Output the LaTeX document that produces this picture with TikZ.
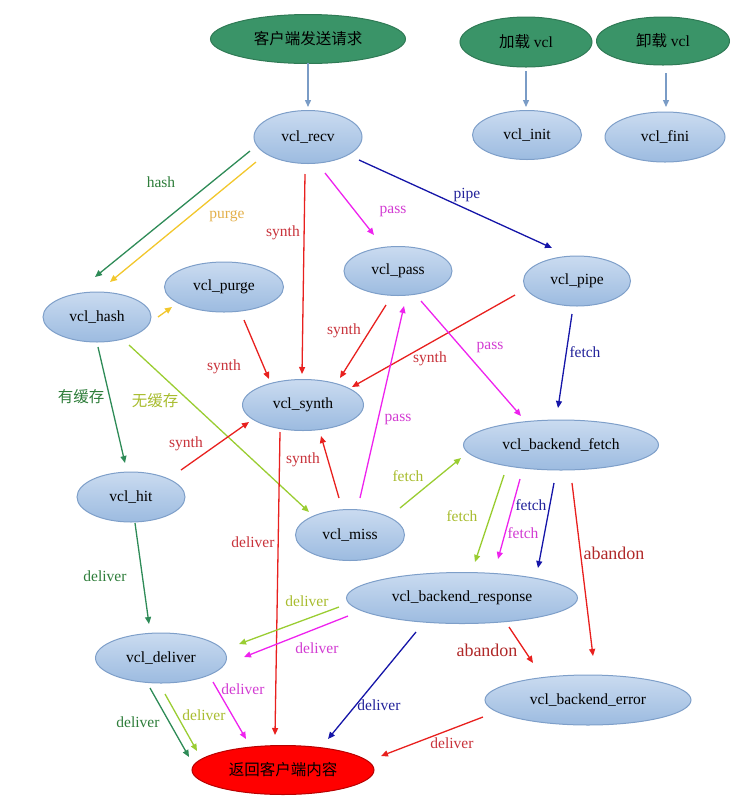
\documentclass[tikz,border=0pt]{standalone}
\usepackage{fontspec}
\setmainfont{Liberation Serif}
\newfontfamily\cjk{Noto Sans CJK SC}
\usetikzlibrary{shapes.geometric,arrows.meta,calc}
\definecolor{nodeBorder}{HTML}{7E9FC9}
\definecolor{nodeTop}{HTML}{CADBF0}
\definecolor{nodeBot}{HTML}{9CBBE0}
\definecolor{greenFill}{HTML}{3A9468}
\definecolor{greenBorder}{HTML}{2F7A55}
\definecolor{redBorder}{HTML}{B80000}
\definecolor{steel}{HTML}{7A9CC6}
\definecolor{cGreen}{HTML}{2E8B57}
\definecolor{cYellow}{HTML}{F2C72C}
\definecolor{cRed}{HTML}{E8201E}
\definecolor{cMag}{HTML}{EE22EE}
\definecolor{cNavy}{HTML}{1515A8}
\definecolor{cYG}{HTML}{9ACD32}
\definecolor{tGreen}{HTML}{2E7D3A}
\definecolor{tYellow}{HTML}{E3B04B}
\definecolor{tRed}{HTML}{C8323A}
\definecolor{tMag}{HTML}{D23CD2}
\definecolor{tNavy}{HTML}{22229A}
\definecolor{tYG}{HTML}{A8BC2E}
\definecolor{tDarkRed}{HTML}{B02828}
\tikzset{
  txt/.style={font=\fontsize{15.5}{18}\selectfont},
  blueell/.style={ellipse, draw=nodeBorder, line width=1pt, top color=nodeTop, bottom color=nodeBot, inner sep=0pt, txt},
  greenell/.style={ellipse, draw=greenBorder, line width=1pt, fill=greenFill, inner sep=0pt, txt},
  redell/.style={ellipse, draw=redBorder, line width=1pt, fill=red, inner sep=0pt, txt},
  conn/.style={line width=1.3pt, -{Triangle[length=7pt,width=6pt]}},
  lbl/.style={inner sep=0pt, txt},
  biglbl/.style={inner sep=0pt, font=\fontsize{18}{20}\selectfont},
}
\begin{document}
\begin{tikzpicture}[x=1pt,y=-1pt]
\useasboundingbox (0,0) rectangle (735,807);
% nodes
\node[greenell, minimum width=195pt, minimum height=49pt] (start) at (308,39) {\cjk 客户端发送请求};
\node[greenell, minimum width=132pt, minimum height=50pt] (load) at (526,42) {{\cjk 加载} vcl};
\node[greenell, minimum width=133pt, minimum height=48pt] (unload) at (663,41) {{\cjk 卸载} vcl};
\node[blueell, minimum width=109pt, minimum height=49pt] (init) at (527,135) {vcl\_init};
\node[blueell, minimum width=120pt, minimum height=50pt] (fini) at (665,137) {vcl\_fini};
\node[blueell, minimum width=108pt, minimum height=53pt] (recv) at (308,137) {vcl\_recv};
\node[blueell, minimum width=108pt, minimum height=50pt] (hash) at (97,317) {vcl\_hash};
\node[blueell, minimum width=119pt, minimum height=50pt] (purge) at (224,287) {vcl\_purge};
\node[blueell, minimum width=108pt, minimum height=49pt] (pass) at (398,271) {vcl\_pass};
\node[blueell, minimum width=107pt, minimum height=50pt] (pipe) at (577,281) {vcl\_pipe};
\node[blueell, minimum width=121pt, minimum height=51pt] (synth) at (303,405) {vcl\_synth};
\node[blueell, minimum width=195pt, minimum height=50pt] (bfetch) at (561,445) {vcl\_backend\_fetch};
\node[blueell, minimum width=108pt, minimum height=50pt] (hit) at (131,497) {vcl\_hit};
\node[blueell, minimum width=109pt, minimum height=51pt] (miss) at (350,535) {vcl\_miss};
\node[blueell, minimum width=231pt, minimum height=51pt] (bresp) at (462,598) {vcl\_backend\_response};
\node[blueell, minimum width=131pt, minimum height=50pt] (deliver) at (161,658) {vcl\_deliver};
\node[blueell, minimum width=206pt, minimum height=50pt] (berror) at (588,700) {vcl\_backend\_error};
\node[redell, minimum width=182pt, minimum height=49pt] (ret) at (283,770) {\cjk 返回客户端内容};
% connectors
\draw[conn, steel] ($(start)+(0,24)$) -- ($(recv)+(0,-30)$);
\draw[conn, steel] ($(load)+(0,29)$) -- ($(init)+(-1,-28)$);
\draw[conn, steel] ($(unload)+(3,32)$) -- ($(fini)+(1,-30)$);
\draw[conn, cGreen] ($(recv)+(-58,14)$) -- ($(hash)+(-2,-40)$);
\draw[conn, cYellow] ($(recv)+(-52,25)$) -- ($(hash)+(13,-35)$);
\draw[conn, cYellow] ($(hash)+(61,0)$) -- ($(purge)+(-52,20)$);
\draw[conn, cRed] ($(recv)+(-3,37)$) -- ($(synth)+(-1,-31)$);
\draw[conn, cMag] ($(recv)+(17,36)$) -- ($(pass)+(-24,-36)$);
\draw[conn, cNavy] ($(recv)+(51,23)$) -- ($(pipe)+(-25,-33)$);
\draw[conn, cRed] ($(purge)+(20,33)$) -- ($(synth)+(-34,-26)$);
\draw[conn, cRed] ($(pass)+(-12,34)$) -- ($(synth)+(37,-27)$);
\draw[conn, cRed] ($(pipe)+(-62,14)$) -- ($(synth)+(49,-18)$);
\draw[conn, cMag] ($(pass)+(23,30)$) -- ($(bfetch)+(-40,-29)$);
\draw[conn, cNavy] ($(pipe)+(-5,33)$) -- ($(bfetch)+(-3,-37)$);
\draw[conn, cGreen] ($(hash)+(1,30)$) -- ($(hit)+(-6,-34)$);
\draw[conn, cYG] ($(hash)+(32,28)$) -- ($(miss)+(-41,-23)$);
\draw[conn, cRed] ($(hit)+(50,-27)$) -- ($(synth)+(-54,17)$);
\draw[conn, cRed] ($(miss)+(-11,-37)$) -- ($(synth)+(18,31)$);
\draw[conn, cMag] ($(miss)+(10,-37)$) -- ($(pass)+(6,35)$);
\draw[conn, cYG] ($(miss)+(50,-27)$) -- ($(bfetch)+(-100,13)$);
\draw[conn, cYG] ($(bfetch)+(-57,30)$) -- ($(bresp)+(13,-36)$);
\draw[conn, cMag] ($(bfetch)+(-41,34)$) -- ($(bresp)+(36,-39)$);
\draw[conn, cNavy] ($(bfetch)+(-7,38)$) -- ($(bresp)+(76,-30)$);
\draw[conn, cRed] ($(bfetch)+(11,38)$) -- ($(berror)+(5,-44)$);
\draw[conn, cRed] ($(synth)+(-23,27)$) -- ($(ret)+(-8,-35)$);
\draw[conn, cGreen] ($(hit)+(4,26)$) -- ($(deliver)+(-12,-34)$);
\draw[conn, cYG] ($(bresp)+(-123,9)$) -- ($(deliver)+(78,-14)$);
\draw[conn, cMag] ($(bresp)+(-114,18)$) -- ($(deliver)+(83,-1)$);
\draw[conn, cNavy] ($(bresp)+(-46,34)$) -- ($(ret)+(45,-31)$);
\draw[conn, cRed] ($(bresp)+(47,29)$) -- ($(berror)+(-55,-37)$);
\draw[conn, cGreen] ($(deliver)+(-11,30)$) -- ($(ret)+(-94,-13)$);
\draw[conn, cYG] ($(deliver)+(4,36)$) -- ($(ret)+(-86,-19)$);
\draw[conn, cMag] ($(deliver)+(52,24)$) -- ($(ret)+(-37,-31)$);
\draw[conn, cRed] ($(berror)+(-105,17)$) -- ($(ret)+(98,-14)$);
% labels
\node[lbl, text=tGreen] (l1) at (161,182) {hash};
\node[lbl, text=tYellow] (l2) at (227,216) {purge};
\node[lbl, text=tRed] (l3) at (283,233) {synth};
\node[lbl, text=tMag] (l4) at (393,211) {pass};
\node[lbl, text=tNavy] (l5) at (467,195) {pipe};
\node[lbl, text=tRed] (l6) at (224,367) {synth};
\node[lbl, text=tRed] (l7) at (344,331) {synth};
\node[lbl, text=tRed] (l8) at (430,359) {synth};
\node[lbl, text=tMag] (l9) at (490,347) {pass};
\node[lbl, text=tNavy] (l10) at (585,352) {fetch};
\node[lbl, text=tGreen] (l11) at (81,397) {\cjk 有缓存};
\node[lbl, text=tYG] (l12) at (155,401) {\cjk 无缓存};
\node[lbl, text=tRed] (l13) at (186,444) {synth};
\node[lbl, text=tRed] (l14) at (303,460) {synth};
\node[lbl, text=tMag] (l15) at (398,419) {pass};
\node[lbl, text=tYG] (l16) at (408,476) {fetch};
\node[lbl, text=tYG] (l17) at (462,516) {fetch};
\node[lbl, text=tMag] (l18) at (523,533) {fetch};
\node[lbl, text=tNavy] (l19) at (531,505) {fetch};
\node[biglbl, text=tDarkRed] (l20) at (614,553) {abandon};
\node[lbl, text=tRed] (l21) at (253,542) {deliver};
\node[lbl, text=tGreen] (l22) at (105,576) {deliver};
\node[lbl, text=tYG] (l23) at (307,601) {deliver};
\node[lbl, text=tMag] (l24) at (317,648) {deliver};
\node[lbl, text=tNavy] (l25) at (379,705) {deliver};
\node[biglbl, text=tDarkRed] (l26) at (487,650) {abandon};
\node[lbl, text=tGreen] (l27) at (138,722) {deliver};
\node[lbl, text=tYG] (l28) at (204,715) {deliver};
\node[lbl, text=tMag] (l29) at (243,689) {deliver};
\node[lbl, text=tRed] (l30) at (452,743) {deliver};
\end{tikzpicture}
\end{document}
